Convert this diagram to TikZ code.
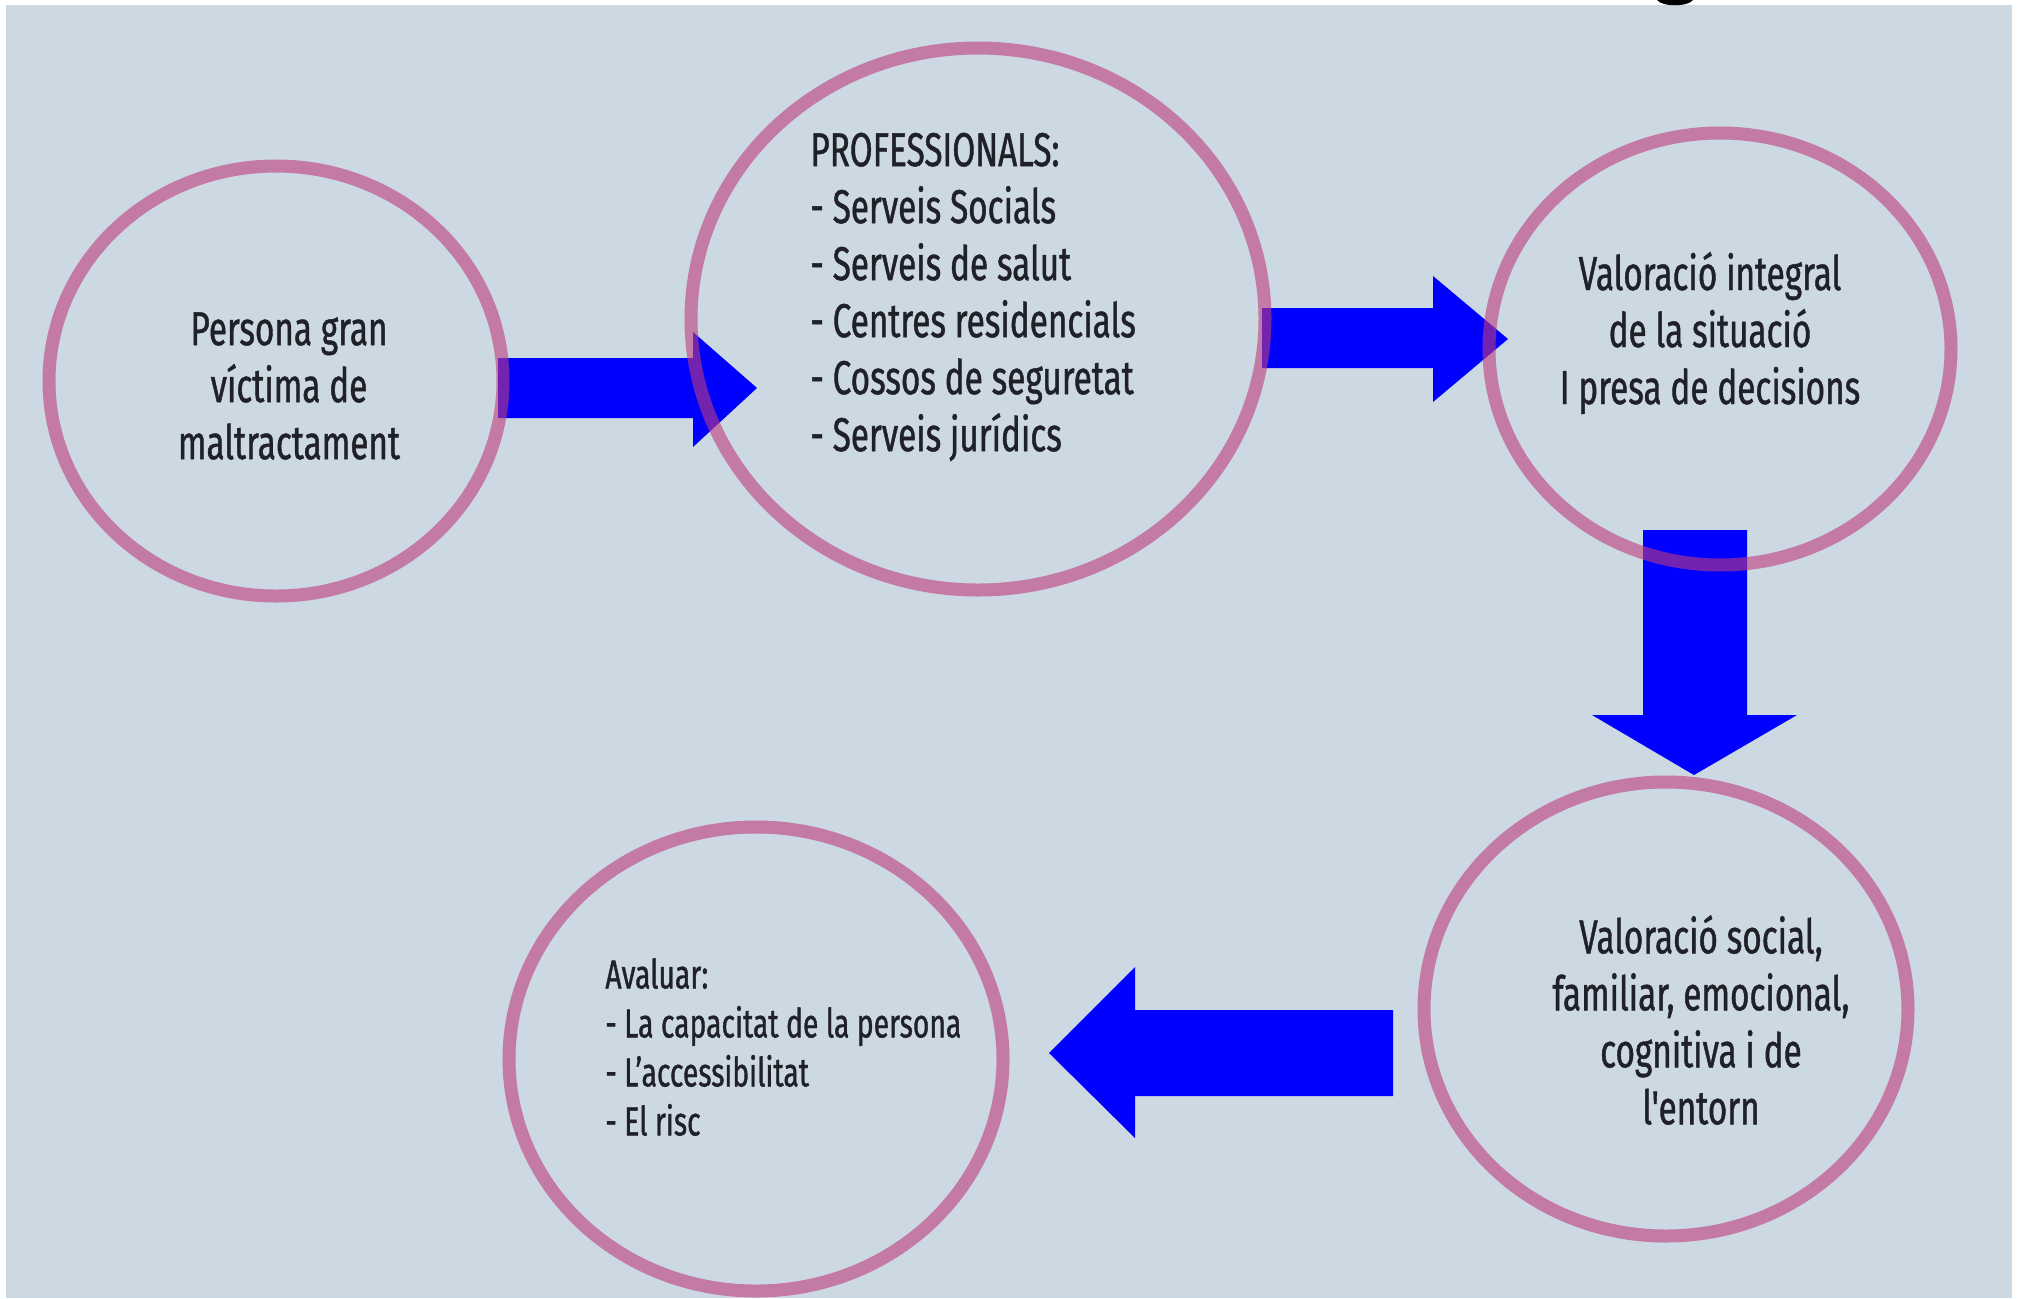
\documentclass[tikz,border=0pt]{standalone}
\usepackage{fontspec}
\setmainfont{Fira Sans}[FakeStretch=0.70, FakeBold=0.9]
\newfontfamily\straightf{Fira Sans}[FakeStretch=0.70, FakeBold=0.9, Ligatures=ResetAll]
\usetikzlibrary{shapes.geometric}
\definecolor{bgc}{RGB}{204,216,226}
\definecolor{ringc}{RGB}{190,60,125}
\definecolor{txtc}{RGB}{32,32,40}
\definecolor{arrc}{RGB}{0,0,255}
\tikzset{
  ring/.style={ellipse, draw=ringc, draw opacity=0.6, line width=6.5pt, inner sep=0pt},
  txtbig/.style={text=txtc, inner sep=0pt, font=\fontsize{23.8}{28.5}\selectfont},
  txtsmall/.style={text=txtc, inner sep=0pt, font=\fontsize{20.2}{24.5}\selectfont},
  blockarrow/.style={fill=arrc}
}
\begin{document}
\begin{tikzpicture}[x=0.5pt,y=-0.5pt]
\useasboundingbox (0,0) rectangle (2020,1298);
\fill[white] (0,0) rectangle (2020,1298);
\fill[bgc] (6,5) rectangle (2012,1298);
\fill[black] (1657,0) .. controls (1662,7) and (1688,7) .. (1693,0) -- cycle;

% block arrows
\fill[blockarrow] (498,358) -- (693,358) -- (693,332) -- (757,388) -- (693,447) -- (693,418) -- (498,418) -- cycle;
\fill[blockarrow] (1262,308) -- (1433,308) -- (1433,276) -- (1508,339) -- (1433,402) -- (1433,368) -- (1262,368) -- cycle;
\fill[blockarrow] (1643,530) -- (1747,530) -- (1747,715) -- (1797,715) -- (1694,775) -- (1592,715) -- (1643,715) -- cycle;
\fill[blockarrow] (1393,1010) -- (1135,1010) -- (1135,967) -- (1049,1053) -- (1135,1138) -- (1135,1096) -- (1393,1096) -- cycle;

% rings
\node[ring, minimum width=227pt, minimum height=215pt] (c1) at (276,381) {};
\node[ring, minimum width=287pt, minimum height=271pt] (c2) at (978,319) {};
\node[ring, minimum width=231pt, minimum height=216pt] (c3) at (1720,349) {};
\node[ring, minimum width=242pt, minimum height=227pt] (c4) at (1666,1009) {};
\node[ring, minimum width=247pt, minimum height=232pt] (c5) at (756,1059) {};

% texts
\node[txtbig, align=center] (t1) at (289,386) {Persona gran\\víctima de\\maltractament};
\node[txtbig, align=left, anchor=west] (t2) at (810,297) {PROFESSIONALS:\\- Serveis Socials\\- Serveis de salut\\- Centres residencials\\- Cossos de seguretat\\- Serveis jurídics};
\node[txtbig, align=center] (t3) at (1710,333) {Valoració integral\\de la situació\\I presa de decisions};
\node[txtbig, align=center] (t4) at (1701,1020) {Valoració social,\\familiar, emocional,\\cognitiva i de\\{\straightf l'entorn}};
\node[txtsmall, align=left, anchor=west] (t5) at (605,1047) {Avaluar:\\- La capacitat de la persona\\- L’accessibilitat\\- El risc};
\end{tikzpicture}
\end{document}
